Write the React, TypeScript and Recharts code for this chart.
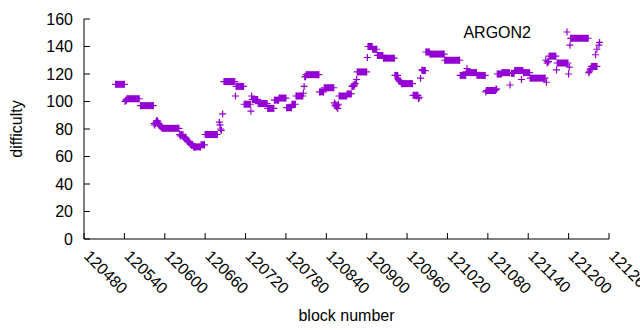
import React from 'react';
import { ScatterChart, Scatter, XAxis, YAxis, ReferenceLine, Legend } from 'recharts';

// gnuplot default first colour (dark-violet)
const PURPLE = '#9400D3';
const FONT = '"Liberation Sans", Arial, sans-serif';
const TICK_LEN = 6;

const X_TICKS = [
  120480, 120540, 120600, 120660, 120720, 120780, 120840,
  120900, 120960, 121020, 121080, 121140, 121200, 121260,
];
const Y_TICKS = [0, 20, 40, 60, 80, 100, 120, 140, 160];

// stretches of blocks that share one difficulty (drawn as solid bars of "+")
const RUN_START = [
  120527, 120544, 120564, 120597, 120645, 120654, 120660, 120688, 120706, 120718,
  120730, 120739, 120753, 120763, 120770, 120781, 120789, 120795, 120810, 120830,
  120837, 120859, 120871, 120886, 120902, 120909, 120916, 120925, 120942, 120952,
  120969, 120983, 120988, 120994, 121016, 121039, 121048, 121054, 121064, 121078,
  121094, 121101, 121115, 121120, 121133, 121143, 121171, 121183, 121204, 121234,
];
const RUN_END = [
  120540, 120562, 120583, 120621, 120653, 120659, 120678, 120704, 120717, 120727,
  120738, 120752, 120762, 120769, 120780, 120788, 120794, 120805, 120829, 120836,
  120851, 120870, 120877, 120900, 120908, 120915, 120924, 120941, 120946, 120968,
  120976, 120987, 120993, 121015, 121038, 121047, 121053, 121063, 121076, 121091,
  121100, 121112, 121119, 121132, 121142, 121165, 121181, 121199, 121229, 121242,
];
const RUN_DIFF = [
  112.5, 102, 97, 80.5, 67, 68.5, 76, 114.5, 111, 98,
  101.5, 98.5, 95, 101, 102.5, 95.5, 98, 104, 119.5, 107,
  110, 104, 105.5, 121.5, 140, 138, 133.5, 131.5, 119, 113,
  104.5, 122.5, 136, 134.5, 130, 119, 121.5, 121, 119, 108,
  120, 121, 120.5, 122.5, 121, 117, 133, 128, 146, 125.5,
];

// single blocks
const POINT_BLOCK = [
  120541, 120542, 120543, 120584, 120585, 120586, 120587, 120588, 120589, 120590,
  120591, 120592, 120593, 120594, 120595, 120596, 120622, 120623, 120624, 120625,
  120626, 120627, 120628, 120629, 120630, 120631, 120632, 120633, 120634, 120635,
  120636, 120637, 120638, 120639, 120640, 120641, 120642, 120643, 120644, 120681,
  120682, 120683, 120684, 120686, 120705, 120728, 120729, 120806, 120807, 120808,
  120809, 120852, 120853, 120854, 120855, 120856, 120857, 120858, 120878, 120879,
  120880, 120881, 120882, 120883, 120885, 120901, 120947, 120948, 120949, 120950,
  120951, 120977, 120978, 120980, 120982, 121049, 121077, 121092, 121093, 121113,
  121130, 121166, 121167, 121168, 121169, 121170, 121182, 121200, 121201, 121202,
  121203, 121230, 121231, 121232, 121233, 121240, 121242, 121245, 121246,
];
const POINT_DIFF = [
  100, 101, 101, 84, 83, 84, 85, 86, 86, 85,
  84, 83, 82, 82, 81, 81, 76, 75, 76, 76,
  75, 76, 74, 74, 73, 74, 73, 72, 71, 71,
  70, 70, 69, 69, 68, 69, 68, 67, 67, 85,
  83, 80, 79, 91, 104, 93, 104, 106, 111, 118,
  118, 99, 97, 98, 96, 97, 95, 98, 111, 111,
  112, 111, 112, 113, 116, 132, 116, 115, 115, 115,
  114, 102, 103, 117, 123, 124, 107, 109, 109, 112,
  116, 130, 114, 128, 129, 129, 123, 120, 125, 141,
  146, 121, 122, 123, 124, 134, 138, 141, 143,
];

const runs = RUN_START.map((start, i) => ({ start, end: RUN_END[i], diff: RUN_DIFF[i] }));

const points = [
  ...POINT_BLOCK.map((block, i) => ({ block, diff: POINT_DIFF[i] })),
  ...runs.flatMap((r) => [
    { block: r.start, diff: r.diff },
    { block: r.end, diff: r.diff },
  ]),
];

function PlusMark(props: any) {
  const { cx, cy } = props;
  if (cx == null || cy == null) return null;
  return (
    <path
      d={`M${cx - 3.5},${cy}H${cx + 3.5}M${cx},${cy - 3.5}V${cy + 3.5}`}
      stroke={PURPLE}
      strokeWidth={1.2}
      fill="none"
    />
  );
}

function BottomTick({ x, y, payload }: any) {
  const tx = x - 1;
  const ty = y + 18;
  return (
    <g>
      <line x1={x} x2={x} y1={y} y2={y - TICK_LEN} stroke="#000" />
      <text
        x={tx}
        y={ty}
        transform={`rotate(45 ${tx} ${ty})`}
        fontFamily={FONT}
        fontSize={16}
        fill="#000"
      >
        {payload.value}
      </text>
    </g>
  );
}

function TopTick({ x, y }: any) {
  return <line x1={x} x2={x} y1={y} y2={y + TICK_LEN} stroke="#000" />;
}

function LeftTick({ x, y, payload }: any) {
  return (
    <g>
      <line x1={x} x2={x + TICK_LEN} y1={y} y2={y} stroke="#000" />
      <text
        x={x - 11}
        y={y}
        textAnchor="end"
        dominantBaseline="central"
        fontFamily={FONT}
        fontSize={16}
        fill="#000"
      >
        {payload.value}
      </text>
    </g>
  );
}

function RightTick({ x, y }: any) {
  return <line x1={x} x2={x - TICK_LEN} y1={y} y2={y} stroke="#000" />;
}

function YTitle(props: any) {
  const vb = props.viewBox || { x: 8, y: 19, width: 76, height: 220 };
  const cx = vb.x + 8;
  const cy = vb.y + vb.height / 2;
  return (
    <text
      x={cx}
      y={cy}
      transform={`rotate(-90 ${cx} ${cy})`}
      textAnchor="middle"
      dominantBaseline="central"
      fontFamily={FONT}
      fontSize={16}
      fill="#000"
    >
      difficulty
    </text>
  );
}

function KeyBox() {
  return (
    <svg width={160} height={24} style={{ display: 'block' }}>
      <text x={91} y={17.5} textAnchor="end" fontFamily={FONT} fontSize={16} fill="#000">
        ARGON2
      </text>
      <PlusMark cx={127} cy={12} />
    </svg>
  );
}

export default function App() {
  return (
    <div style={{ position: 'absolute', left: 0, top: 0, width: 640, height: 330, background: '#fff' }}>
      <ScatterChart width={640} height={330} margin={{ top: 19, right: 31, bottom: 0, left: 8 }}>
        <XAxis
          dataKey="block"
          type="number"
          domain={[120480, 121260]}
          ticks={X_TICKS}
          interval={0}
          allowDataOverflow
          height={91}
          tickSize={0}
          tickMargin={0}
          tickLine={false}
          axisLine={{ stroke: '#000' }}
          tick={<BottomTick />}
          label={{
            value: 'block number',
            position: 'insideBottom',
            offset: 9,
            fill: '#000',
            fontSize: 16,
            fontFamily: FONT,
          }}
        />
        <XAxis
          xAxisId="top"
          orientation="top"
          type="number"
          domain={[120480, 121260]}
          ticks={X_TICKS}
          interval={0}
          allowDataOverflow
          height={0}
          tickSize={0}
          tickMargin={0}
          tickLine={false}
          axisLine={{ stroke: '#000' }}
          tick={<TopTick />}
        />
        <YAxis
          dataKey="diff"
          type="number"
          domain={[0, 160]}
          ticks={Y_TICKS}
          interval={0}
          allowDataOverflow
          width={76}
          tickSize={0}
          tickMargin={0}
          tickLine={false}
          axisLine={{ stroke: '#000' }}
          tick={<LeftTick />}
          label={<YTitle />}
        />
        <YAxis
          yAxisId="right"
          orientation="right"
          type="number"
          domain={[0, 160]}
          ticks={Y_TICKS}
          interval={0}
          allowDataOverflow
          width={0}
          tickSize={0}
          tickMargin={0}
          tickLine={false}
          axisLine={{ stroke: '#000' }}
          tick={<RightTick />}
        />
        {runs.map((r, i) => (
          <ReferenceLine
            key={`run-${i}`}
            segment={[
              { x: r.start, y: r.diff },
              { x: r.end, y: r.diff },
            ]}
            stroke={PURPLE}
            strokeWidth={7}
            ifOverflow="visible"
          />
        ))}
        <Scatter
          name="ARGON2"
          data={points}
          fill={PURPLE}
          shape={<PlusMark />}
          isAnimationActive={false}
        />
        <Legend
          layout="horizontal"
          verticalAlign="middle"
          align="center"
          wrapperStyle={{ left: 440, top: 20, width: 160, height: 24 }}
          content={() => <KeyBox />}
        />
      </ScatterChart>
    </div>
  );
}
